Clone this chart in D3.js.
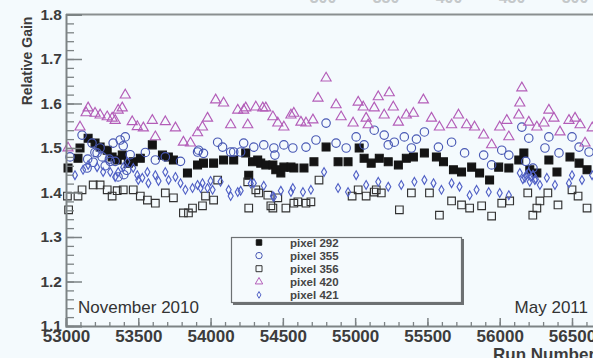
<!DOCTYPE html>
<html>
<head>
<meta charset="utf-8">
<script src="https://cdn.jsdelivr.net/npm/d3@7"></script>
<style>
  body { margin: 0; background: #f4fafd; }
  svg { display: block; }
  text { font-family: "Liberation Sans", Arial, sans-serif; }
</style>
</head>
<body>
<svg></svg>
<script>
var size = {width: 593, height: 358}
var margins = {top: 14.5, left: 66, bottom: 32}

// ---- data ----
var runs292 = [53014,53083,53097,53153,53201,53236,53285,53319,53354,53389,53431,53465,53514,53597,53667,53708,53743,53840,53910,53951,54021,54090,54160,54243,54264,54290,54326,54347,54382,54431,54451,54486,54507,54556,54576,54646,54715,54799,54882,54951,55028,55062,55111,55167,55229,55299,55354,55403,55479,55562,55611,55680,55736,55806,55861,55930,55993,56063,56132,56167,56208,56257,56340,56396,56486,56549,56604]
var gain292 = [1.455,1.477,1.500,1.522,1.511,1.502,1.495,1.480,1.473,1.484,1.466,1.469,1.477,1.507,1.484,1.480,1.473,1.444,1.462,1.466,1.466,1.473,1.473,1.489,1.439,1.469,1.473,1.466,1.462,1.462,1.451,1.444,1.457,1.457,1.455,1.455,1.469,1.502,1.469,1.469,1.500,1.477,1.466,1.477,1.469,1.462,1.477,1.480,1.489,1.480,1.469,1.451,1.446,1.457,1.444,1.428,1.457,1.455,1.473,1.489,1.451,1.444,1.473,1.446,1.480,1.466,1.451]

var runs355 = [53028,53111,53146,53150,53180,53188,53200,53215,53236,53250,53271,53300,53306,53326,53340,53360,53375,53396,53400,53410,53420,53444,53549,53618,53687,53792,53910,53917,53951,54049,54083,54139,54160,54208,54229,54299,54368,54438,54445,54507,54569,54660,54729,54799,54868,54938,55007,55062,55132,55201,55229,55271,55340,55389,55424,55479,55576,55667,55757,55889,55944,56014,56063,56153,56180,56201,56230,56313,56340,56410,56500,56549,56618]
var gain355 = [1.480,1.529,1.455,1.475,1.511,1.468,1.490,1.489,1.500,1.480,1.460,1.475,1.470,1.511,1.470,1.435,1.518,1.505,1.440,1.525,1.450,1.485,1.490,1.473,1.480,1.470,1.491,1.495,1.488,1.513,1.502,1.491,1.491,1.491,1.511,1.502,1.507,1.500,1.484,1.507,1.500,1.502,1.518,1.556,1.511,1.500,1.525,1.507,1.540,1.529,1.507,1.513,1.525,1.500,1.520,1.536,1.502,1.513,1.489,1.484,1.462,1.495,1.484,1.547,1.470,1.522,1.455,1.500,1.525,1.489,1.525,1.502,1.491]

var runs356 = [53010,53018,53083,53111,53188,53236,53285,53319,53354,53396,53465,53514,53563,53618,53687,53743,53812,53847,53875,53944,53965,54021,54049,54257,54264,54313,54333,54396,54417,54431,54465,54521,54576,54604,54660,54694,54750,54979,55021,55076,55132,55146,55181,55306,55389,55514,55583,55667,55736,55792,55875,55944,56014,56069,56194,56229,56257,56278,56333,56403,56500,56542,56604]
var gain356 = [1.392,1.361,1.392,1.406,1.417,1.417,1.406,1.392,1.404,1.406,1.406,1.392,1.383,1.376,1.399,1.388,1.354,1.354,1.365,1.370,1.392,1.383,1.428,1.424,1.365,1.406,1.399,1.394,1.370,1.365,1.388,1.365,1.376,1.379,1.376,1.379,1.428,1.392,1.406,1.392,1.401,1.406,1.399,1.361,1.399,1.399,1.349,1.381,1.372,1.365,1.370,1.347,1.376,1.381,1.399,1.349,1.365,1.381,1.399,1.372,1.406,1.392,1.365]

var runs420 = [53014,53097,53139,53153,53201,53236,53285,53319,53340,53361,53389,53410,53458,53493,53535,53597,53618,53687,53757,53812,53861,53910,53944,53979,54035,54090,54139,54188,54229,54243,54257,54313,54361,54382,54431,54465,54507,54556,54576,54625,54660,54708,54743,54799,54868,54903,54986,55021,55056,55076,55090,55132,55160,55201,55236,55264,55299,55354,55403,55472,55528,55583,55667,55715,55771,55826,55889,55944,56000,56049,56063,56132,56139,56153,56201,56257,56306,56340,56375,56417,56479,56521,56556,56590,56640]
var gain420 = [1.500,1.547,1.579,1.590,1.578,1.574,1.570,1.567,1.562,1.585,1.590,1.619,1.559,1.548,1.545,1.562,1.525,1.559,1.545,1.513,1.511,1.534,1.547,1.567,1.608,1.601,1.552,1.585,1.585,1.590,1.552,1.592,1.590,1.590,1.570,1.556,1.547,1.574,1.578,1.558,1.556,1.563,1.612,1.657,1.597,1.570,1.556,1.603,1.592,1.567,1.552,1.590,1.615,1.574,1.624,1.592,1.558,1.574,1.578,1.608,1.567,1.547,1.552,1.574,1.552,1.547,1.529,1.507,1.547,1.562,1.525,1.574,1.601,1.635,1.558,1.547,1.556,1.585,1.567,1.536,1.562,1.567,1.552,1.511,1.545]

var runs421 = [53062,53118,53153,53215,53257,53306,53340,53361,53396,53424,53465,53493,53500,53528,53563,53570,53618,53640,53687,53710,53757,53792,53826,53875,53910,53931,53944,53979,54000,54014,54069,54125,54139,54188,54208,54278,54299,54368,54431,54438,54486,54556,54569,54639,54694,54785,54882,54951,55007,55076,55160,55229,55319,55410,55479,55542,55597,55667,55722,55792,55840,55924,56000,56063,56139,56160,56174,56185,56200,56208,56215,56230,56243,56250,56278,56326,56382,56479,56500,56569,56639]
var gain421 = [1.439,1.451,1.462,1.457,1.446,1.446,1.435,1.446,1.457,1.469,1.455,1.439,1.428,1.433,1.446,1.421,1.439,1.426,1.446,1.428,1.435,1.421,1.406,1.410,1.417,1.410,1.421,1.410,1.426,1.406,1.424,1.406,1.392,1.401,1.404,1.420,1.421,1.415,1.392,1.390,1.404,1.401,1.410,1.401,1.406,1.446,1.410,1.401,1.439,1.417,1.424,1.413,1.417,1.424,1.428,1.421,1.406,1.421,1.413,1.394,1.406,1.401,1.399,1.394,1.444,1.430,1.433,1.440,1.445,1.424,1.435,1.440,1.428,1.430,1.417,1.433,1.417,1.421,1.439,1.428,1.439]

var xTicks = [53000,53500,54000,54500,55000,55500,56000,56500]
var yTicks = [1.1,1.2,1.3,1.4,1.5,1.6,1.7,1.8]
var topTickLabels = [300,350,400,450,500]
var legendNames = ["pixel 292","pixel 355","pixel 356","pixel 420","pixel 421"]

// ---- marker styles ----
var styles = [
    {symbol: d3.symbolSquare,   area: 62, fill: "#141414", stroke: "#141414", legendArea: 30},
    {symbol: d3.symbolCircle,   area: 56, fill: "none",    stroke: "#4858b4", legendArea: 32},
    {symbol: d3.symbolSquare,   area: 58, fill: "none",    stroke: "#333333", legendArea: 36},
    {symbol: d3.symbolTriangle, area: 44, fill: "none",    stroke: "#b35db8", legendArea: 24},
    {symbol: d3.symbolDiamond,  area: 22, fill: "none",    stroke: "#5161c6", legendArea: 13}
]

var series = [
    {runs: runs292, gains: gain292},
    {runs: runs355, gains: gain355},
    {runs: runs356, gains: gain356},
    {runs: runs420, gains: gain420},
    {runs: runs421, gains: gain421}
]

var svg = d3.select("svg")
    .attr("width", size.width)
    .attr("height", size.height)

svg.append("rect")
    .attr("width", size.width)
    .attr("height", size.height)
    .attr("fill", "#f4fafd")

var xScale = d3.scaleLinear()
    .domain([53000, 56500])
    .range([margins.left, 572])

var yScale = d3.scaleLinear()
    .domain([1.1, 1.8])
    .range([size.height - margins.bottom, margins.top])

var topScale = d3.scaleLinear()
    .domain([300, 500])
    .range([323, 575])

// cut-off labels of the panel above
svg.append("g")
    .selectAll("text")
    .data(topTickLabels)
    .enter()
    .append("text")
    .attr("x", function(d){return topScale(d)})
    .attr("y", 2.5)
    .attr("text-anchor", "middle")
    .attr("font-size", 16)
    .attr("font-weight", "bold")
    .attr("fill", "#c4c8ca")
    .text(function(d){return d})

// frame lines
var yBottom = yScale(1.1)
var yTop = yScale(1.8)
svg.append("line")
    .attr("x1", margins.left).attr("x2", size.width)
    .attr("y1", yTop).attr("y2", yTop)
    .attr("stroke", "#8a8f90").attr("stroke-width", 2)

// markers
series.forEach(function(s, i)
{
    var st = styles[i]
    var pts = s.runs.map(function(r, j){return {run: r, gain: s.gains[j]}})
    svg.append("g")
        .attr("class", "series" + i)
        .selectAll("path")
        .data(pts)
        .enter()
        .append("path")
        .attr("transform", function(d){return "translate(" + xScale(d.run) + "," + yScale(d.gain) + ")"})
        .attr("d", d3.symbol().type(st.symbol).size(st.area))
        .attr("fill", st.fill)
        .attr("stroke", st.stroke)
        .attr("stroke-width", 1.15)
})

// y axis: majors + minors, ticks pointing into the plot
var yMinor = d3.range(1.1, 1.8001, 0.02)
svg.append("g")
    .attr("transform", "translate(" + margins.left + ",0)")
    .call(d3.axisLeft(yScale).tickValues(yMinor).tickSize(-8).tickFormat(""))
    .call(function(g){g.select(".domain").remove()})
    .selectAll("line").attr("stroke", "#7d8385").attr("stroke-width", 1.3)

var yAxis = svg.append("g")
    .attr("transform", "translate(" + margins.left + ",0)")
    .call(d3.axisLeft(yScale).tickValues(yTicks).tickSize(-16).tickPadding(4).tickFormat(d3.format(".1f")))
yAxis.select(".domain").attr("stroke", "#7d8385").attr("stroke-width", 2)
yAxis.selectAll("line").attr("stroke", "#7d8385").attr("stroke-width", 1.5)
yAxis.selectAll("text")
    .attr("font-size", 15.5)
    .attr("font-weight", "bold")
    .attr("fill", "#3c3c3c")
    .attr("font-family", "Liberation Sans, Arial, sans-serif")

// x axis
var xMinor = d3.range(53000, 57100, 100)
var xScaleWide = xScale.copy().domain([53000, 57000]).range([xScale(53000), xScale(57000)])
svg.append("g")
    .attr("transform", "translate(0," + yBottom + ")")
    .call(d3.axisBottom(xScaleWide).tickValues(xMinor).tickSize(-4).tickFormat(""))
    .call(function(g){g.select(".domain").remove()})
    .selectAll("line").attr("stroke", "#7d8385").attr("stroke-width", 1.3)

var xAxis = svg.append("g")
    .attr("transform", "translate(0," + yBottom + ")")
    .call(d3.axisBottom(xScaleWide).tickValues(xTicks).tickSize(-8).tickPadding(4).tickFormat(d3.format("d")))
xAxis.select(".domain").attr("stroke", "#7d8385").attr("stroke-width", 2)
xAxis.selectAll("line").attr("stroke", "#7d8385").attr("stroke-width", 1.5)
xAxis.selectAll("text")
    .attr("font-size", 17)
    .attr("font-weight", "bold")
    .attr("fill", "#3c3c3c")
    .attr("font-family", "Liberation Sans, Arial, sans-serif")

// axis titles
svg.append("text")
    .attr("transform", "translate(32," + 61 + ")rotate(-90)")
    .attr("text-anchor", "middle")
    .attr("font-size", 14)
    .attr("font-weight", "bold")
    .attr("fill", "#3c3c3c")
    .text("Relative Gain")

svg.append("text")
    .attr("x", 493)
    .attr("y", 360)
    .attr("font-size", 17)
    .attr("font-weight", "bold")
    .attr("fill", "#3c3c3c")
    .text("Run Number")

// date notes
svg.append("text")
    .attr("x", 78).attr("y", 313)
    .attr("font-size", 17)
    .attr("fill", "#333")
    .text("November 2010")

svg.append("text")
    .attr("x", 588).attr("y", 313)
    .attr("text-anchor", "end")
    .attr("font-size", 17)
    .attr("fill", "#333")
    .text("May 2011")

// legend
var legend = svg.append("g").attr("id", "legend")
legend.append("rect")
    .attr("x", 233).attr("y", 239)
    .attr("width", 231).attr("height", 66)
    .attr("fill", "#6d7173")
legend.append("rect")
    .attr("x", 231.5).attr("y", 237.5)
    .attr("width", 230).attr("height", 65)
    .attr("fill", "#f5fafd")
    .attr("stroke", "#6d7173")
    .attr("stroke-width", 1.2)

var rows = legend.selectAll("g.row")
    .data(legendNames)
    .enter()
    .append("g")
    .attr("class", "row")
    .attr("transform", function(d, i){return "translate(0," + (242.5 + i * 13.1) + ")"})

rows.append("path")
    .attr("transform", "translate(259,0)")
    .attr("d", function(d, i){return d3.symbol().type(styles[i].symbol).size(styles[i].legendArea)()})
    .attr("fill", function(d, i){return styles[i].fill})
    .attr("stroke", function(d, i){return styles[i].stroke})
    .attr("stroke-width", 1)

rows.append("text")
    .attr("x", 290)
    .attr("y", 4)
    .attr("font-size", 11.5)
    .attr("font-weight", "bold")
    .attr("fill", "#454545")
    .text(function(d){return d})
</script>
</body>
</html>
